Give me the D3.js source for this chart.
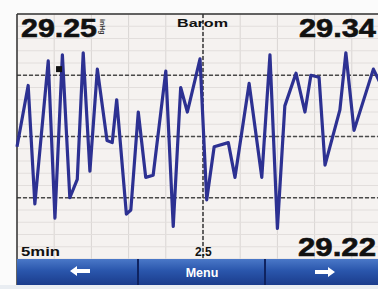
<!DOCTYPE html>
<html>
<head>
<meta charset="utf-8">
<script src="https://cdn.jsdelivr.net/npm/d3@7"></script>
<style>
  html, body { margin: 0; padding: 0; background: #fbfbfb; }
  svg { display: block; }
  text { font-family: "Liberation Sans", Arial, sans-serif; font-weight: bold; }
</style>
</head>
<body>
<svg id="chart"></svg>
<script>
// DATOS
const times = [0, 0.15, 0.24, 0.42, 0.51, 0.61, 0.71, 0.81, 0.89, 0.98, 1.08, 1.21, 1.28, 1.34, 1.47, 1.53,
  1.63, 1.73, 1.83, 2.0, 2.1, 2.2, 2.29, 2.46, 2.55, 2.65, 2.84, 2.93, 3.12, 3.29, 3.4, 3.5, 3.6, 3.75,
  3.87, 3.95, 4.06, 4.14, 4.34, 4.42, 4.53, 4.79, 4.87];
const pressures = [29.275, 29.305, 29.247, 29.317, 29.240, 29.320, 29.250, 29.259, 29.321, 29.263, 29.313,
  29.278, 29.277, 29.298, 29.242, 29.244, 29.292, 29.260, 29.261, 29.312, 29.236, 29.304, 29.292, 29.318,
  29.249, 29.275, 29.277, 29.260, 29.306, 29.260, 29.320, 29.235, 29.295, 29.311, 29.292, 29.310, 29.309,
  29.266, 29.293, 29.321, 29.283, 29.313, 29.307];
const cursorPoint = [0.565, 29.313];

const currentValue = "29.25";
const topValue = "29.34";
const bottomValue = "29.22";
const title = "Barom";
const unit = "inHg";
const spanLabel = "5min";
const midLabel = "2.5";
const menuLabel = "Menu";

const majorLevels = [29.25, 29.28, 29.31];
const minorTimes = d3.range(0, 5.01, 0.5);
const minorLevels = d3.range(29.22, 29.341, 0.006);

// MEDIDAS
const width = 378, height = 289;
const plotLeft = 17, plotTop = 14, plotBottom = 259, barBottom = 285;

const svg = d3.select("#chart").attr("width", width).attr("height", height);

// ESCALAS
const x = d3.scaleLinear().domain([0, 5]).range([plotLeft, 389]);
const y = d3.scaleLinear().domain([29.22, 29.34]).range([plotBottom, plotTop]);

// FONDO
svg.append("rect").attr("x", 0).attr("y", 0).attr("width", width).attr("height", height).attr("fill", "#fbfbfb");
svg.append("rect").attr("x", plotLeft).attr("y", plotTop).attr("width", width - plotLeft).attr("height", plotBottom - plotTop)
  .attr("fill", "#f5f2f0");

// REJILLA FINA
svg.selectAll(".vgrid").data(minorTimes).enter().append("line")
  .attr("x1", d => x(d)).attr("x2", d => x(d))
  .attr("y1", plotTop).attr("y2", plotBottom)
  .attr("stroke", "#d9d5d3").attr("stroke-width", 1);
svg.selectAll(".hgrid").data(minorLevels).enter().append("line")
  .attr("x1", plotLeft).attr("x2", width)
  .attr("y1", d => y(d)).attr("y2", d => y(d))
  .attr("stroke", "#e2dedc").attr("stroke-width", 1);

// LINEAS DISCONTINUAS
svg.selectAll(".major").data(majorLevels).enter().append("line")
  .attr("x1", plotLeft).attr("x2", width)
  .attr("y1", d => y(d)).attr("y2", d => y(d))
  .attr("stroke", "#4a4a4a").attr("stroke-width", 1.7).attr("stroke-dasharray", "4,2");
svg.append("line")
  .attr("x1", x(2.5)).attr("x2", x(2.5)).attr("y1", plotTop).attr("y2", plotBottom)
  .attr("stroke", "#4a4a4a").attr("stroke-width", 1.7).attr("stroke-dasharray", "4,2");

// BORDE
svg.append("line").attr("x1", plotLeft).attr("x2", width).attr("y1", plotTop).attr("y2", plotTop)
  .attr("stroke", "#333").attr("stroke-width", 1.5);
svg.append("line").attr("x1", plotLeft).attr("x2", plotLeft).attr("y1", plotTop).attr("y2", barBottom)
  .attr("stroke", "#333").attr("stroke-width", 1.5);

// LINEA DE PRESION
const line = d3.line().x(d => x(d[0])).y(d => y(d[1]));
svg.append("path")
  .datum(d3.zip(times, pressures))
  .attr("d", line)
  .attr("fill", "none")
  .attr("stroke", "#2d3192")
  .attr("stroke-width", 3.2)
  .attr("stroke-linejoin", "round");

svg.append("rect")
  .attr("x", x(cursorPoint[0]) - 3).attr("y", y(cursorPoint[1]) - 3)
  .attr("width", 6).attr("height", 6).attr("fill", "#111");

// TEXTOS
svg.append("text").attr("x", 21).attr("y", 37).attr("font-size", 26)
  .attr("textLength", 76).attr("lengthAdjust", "spacingAndGlyphs").attr("fill", "#111")
  .attr("stroke", "#111").attr("stroke-width", 0.6).text(currentValue);
svg.append("text").attr("transform", "translate(100,19) rotate(90)").attr("font-size", 7)
  .attr("fill", "#333").text(unit);
svg.append("text").attr("x", 177).attr("y", 27).attr("font-size", 11)
  .attr("textLength", 51).attr("lengthAdjust", "spacingAndGlyphs").attr("fill", "#111").text(title);
svg.append("text").attr("x", 376).attr("y", 37).attr("font-size", 26).attr("text-anchor", "end")
  .attr("textLength", 77).attr("lengthAdjust", "spacingAndGlyphs").attr("fill", "#111")
  .attr("stroke", "#111").attr("stroke-width", 0.6).text(topValue);
svg.append("text").attr("x", 21).attr("y", 256).attr("font-size", 12)
  .attr("textLength", 39).attr("lengthAdjust", "spacingAndGlyphs").attr("fill", "#111").text(spanLabel);
svg.append("text").attr("x", 195).attr("y", 256).attr("font-size", 12)
  .attr("fill", "#111").text(midLabel);
svg.append("text").attr("x", 376).attr("y", 256).attr("font-size", 26).attr("text-anchor", "end")
  .attr("textLength", 78).attr("lengthAdjust", "spacingAndGlyphs").attr("fill", "#111")
  .attr("stroke", "#111").attr("stroke-width", 0.6).text(bottomValue);

// BARRA DE BOTONES
const defs = svg.append("defs");
const grad = defs.append("linearGradient").attr("id", "bar").attr("x1", 0).attr("y1", 0).attr("x2", 0).attr("y2", 1);
grad.append("stop").attr("offset", "0%").attr("stop-color", "#4a78c8");
grad.append("stop").attr("offset", "45%").attr("stop-color", "#2a56ac");
grad.append("stop").attr("offset", "100%").attr("stop-color", "#1b3c8c");

svg.append("rect").attr("x", 0).attr("y", barBottom).attr("width", width).attr("height", height - barBottom)
  .attr("fill", "#e9edf2");
svg.append("rect").attr("x", plotLeft).attr("y", plotBottom).attr("width", width - plotLeft).attr("height", barBottom - plotBottom)
  .attr("fill", "url(#bar)");
[138, 265].forEach(sx => {
  svg.append("line").attr("x1", sx).attr("x2", sx).attr("y1", plotBottom).attr("y2", barBottom)
    .attr("stroke", "#0f2360").attr("stroke-width", 2);
});

// flechas blancas
const arrow = (cx, cy, dir) => {
  const pts = [[-10, 0], [-3, -5], [-3, -2], [10, -2], [10, 2], [-3, 2], [-3, 5]];
  return "M" + pts.map(p => [cx + dir * p[0], cy + p[1]].join(",")).join("L") + "Z";
};
svg.append("path").attr("d", arrow(80, 271, 1)).attr("fill", "#fff");
svg.append("path").attr("d", arrow(325, 272, -1)).attr("fill", "#fff");
svg.append("text").attr("x", 202).attr("y", 277).attr("font-size", 12.5).attr("text-anchor", "middle")
  .attr("fill", "#fff").text(menuLabel);
</script>
</body>
</html>
